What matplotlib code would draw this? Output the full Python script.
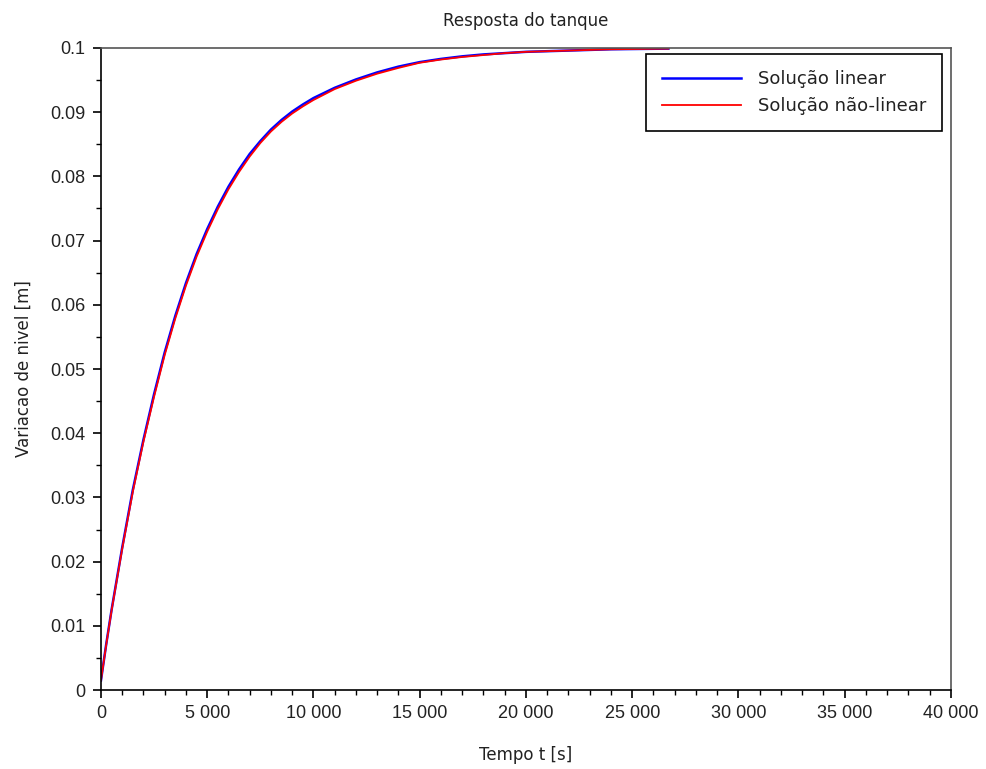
import matplotlib
matplotlib.use('Agg')
import matplotlib.pyplot as plt
from matplotlib.ticker import MultipleLocator, FuncFormatter

# values
tempo = [0, 250, 500, 1000, 1500, 2000, 2500, 3000, 3500, 4000, 4500, 5000, 5500,
         6000, 6500, 7000, 7500, 8000, 8500, 9000, 9500, 10000, 11000, 12000,
         13000, 14000, 15000, 16000, 17000, 18000, 19000, 20000, 22000, 24000, 26700]
nivel_linear = [0.0015, 0.0072, 0.0125, 0.0222, 0.0312, 0.0390, 0.0461, 0.0526,
                0.0583, 0.0634, 0.0679, 0.0718, 0.0753, 0.0784, 0.0811, 0.0835,
                0.0855, 0.0873, 0.0888, 0.0901, 0.0912, 0.0922, 0.0938, 0.0951,
                0.0962, 0.0971, 0.0978, 0.0983, 0.0987, 0.0990, 0.0992, 0.0994,
                0.0996, 0.0998, 0.0999]
nivel_nao_linear = [0.0015, 0.0071, 0.0124, 0.0220, 0.0309, 0.0387, 0.0457, 0.0522,
                    0.0579, 0.0630, 0.0675, 0.0714, 0.0749, 0.0780, 0.0807, 0.0831,
                    0.0852, 0.0870, 0.0885, 0.0898, 0.0909, 0.0919, 0.0936, 0.0949,
                    0.0960, 0.0969, 0.0977, 0.0982, 0.0986, 0.0989, 0.0992, 0.0994,
                    0.0996, 0.0998, 0.0999]

plt.rcParams['font.family'] = ['Liberation Sans', 'DejaVu Sans']
label_font = {'family': 'DejaVu Sans', 'size': 12, 'color': '#222222'}

fig = plt.figure(figsize=(9.86, 7.69), dpi=100)
ax = fig.add_axes([0.1024, 0.1027, 0.8621, 0.8349])

ax.plot(tempo, nivel_linear, color='#0000ff', linewidth=1.8, label='Solução linear')
ax.plot(tempo, nivel_nao_linear, color='#ff0000', linewidth=1.3, label='Solução não-linear')

ax.set_xlim(0, 40000)
ax.set_ylim(0, 0.1)
ax.xaxis.set_major_locator(MultipleLocator(5000))
ax.xaxis.set_minor_locator(MultipleLocator(1000))
ax.yaxis.set_major_locator(MultipleLocator(0.01))
ax.yaxis.set_minor_locator(MultipleLocator(0.005))
ax.xaxis.set_major_formatter(FuncFormatter(lambda v, p: f'{int(v):,}'.replace(',', ' ')))
ax.yaxis.set_major_formatter(FuncFormatter(lambda v, p: '0' if abs(v) < 1e-12 else f'{v:.2f}'.rstrip('0')))

ax.tick_params(which='major', direction='out', length=6, width=1.2, labelsize=13,
               colors='black', pad=5, labelfontfamily='Liberation Sans')
ax.tick_params(which='minor', direction='out', length=3.5, width=1.0)
for lbl in ax.get_xticklabels() + ax.get_yticklabels():
    lbl.set_color('#222222')
for s in ax.spines.values():
    s.set_linewidth(1.2)
ax.spines['top'].set_color('#555555')
ax.spines['right'].set_color('#555555')

ax.set_title('Resposta do tanque', fontdict=label_font, pad=16)
ax.set_xlabel('Tempo t [s]', fontdict=label_font, labelpad=17)
ax.set_ylabel('Variacao de nivel [m]', fontdict=label_font, labelpad=13)

leg = ax.legend(loc='upper right', prop={'family': 'DejaVu Sans', 'size': 13},
                fancybox=False, framealpha=1, edgecolor='black', borderpad=0.88,
                labelspacing=0.53, handlelength=4.35, handletextpad=0.95,
                borderaxespad=0, bbox_to_anchor=(0.9894, 0.9907))
leg.get_frame().set_linewidth(1.2)
for t in leg.get_texts():
    t.set_color('#222222')

fig.savefig('out.png', dpi=100)
